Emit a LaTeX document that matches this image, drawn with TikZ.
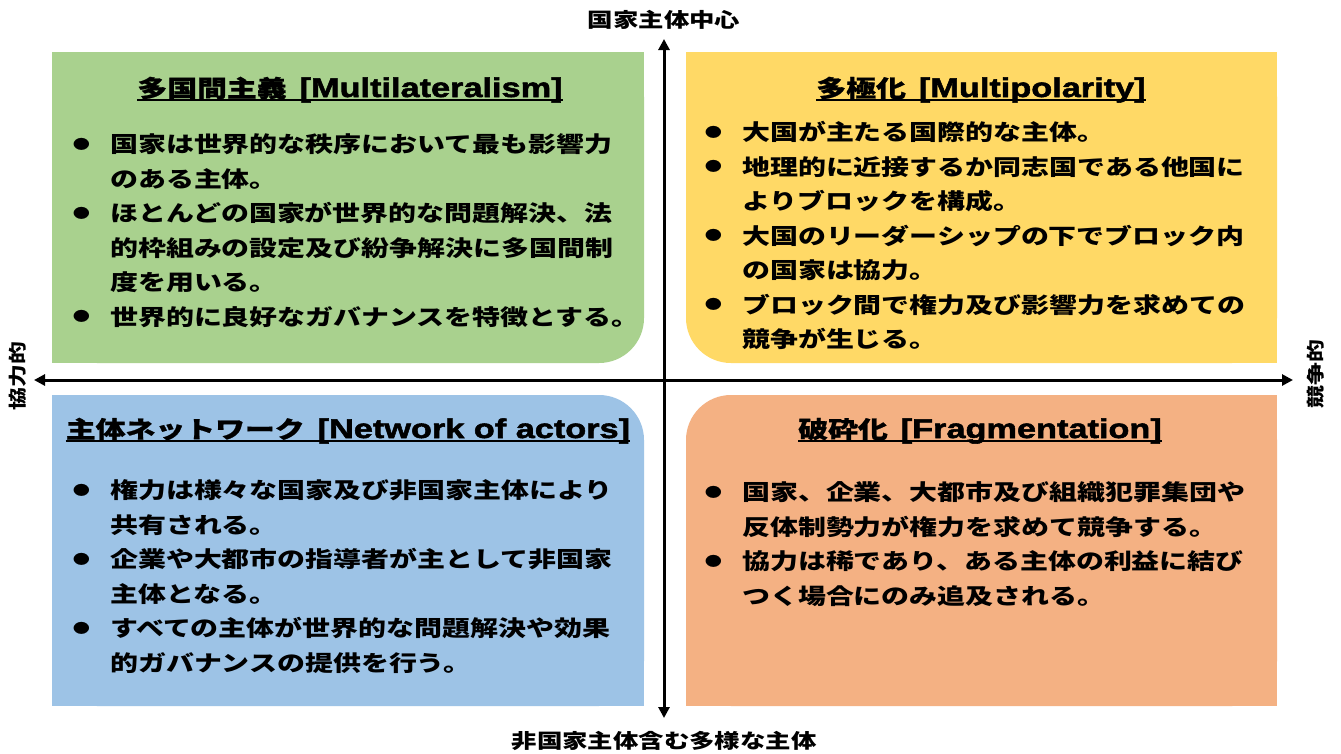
\documentclass[tikz,border=0pt]{standalone}
\usepackage{fontspec}
\usetikzlibrary{arrows.meta}
\newfontfamily\jp[FakeStretch=1.27]{Noto Sans CJK JP}
\newfontfamily\jpt[FakeStretch=1.27,FakeBold=1]{Noto Sans CJK JP}
\newfontfamily\latb[FakeStretch=1.27,FakeBold=2]{Liberation Sans}
\definecolor{cgreen}{HTML}{A9D18E}
\definecolor{cyellow}{HTML}{FFD966}
\definecolor{cblue}{HTML}{9DC3E6}
\definecolor{corange}{HTML}{F4B183}
\newcommand\bul{\makebox[37.25pt][l]{\raisebox{3.4pt}{\fontsize{13.5}{13.5}\selectfont ●}}}
\newcommand\ind{\hspace*{37.25pt}}
\newcommand\fs{\rule{0pt}{20pt}}
\newcommand\ttl[2]{{\jpt\bfseries\fontsize{23.5}{23.5}\selectfont #1}\hspace{13pt}{\latb\bfseries\fontsize{27}{27}\selectfont #2}}
\begin{document}
\begin{tikzpicture}[x=1pt,y=-1pt,
  body/.style={font=\jp\bfseries\fontsize{22}{34.5}\selectfont, align=left, inner sep=0pt, anchor=north west},
  title/.style={inner sep=0pt, anchor=base},
  uline/.style={line width=2pt},
  axis/.style={line width=3pt, {Triangle[length=11pt,width=11pt]}-{Triangle[length=11pt,width=11pt]}},
  lbl/.style={font=\jp\bfseries\fontsize{20}{20}\selectfont, inner sep=0pt},
  slbl/.style={font=\jp\bfseries\fontsize{18}{18}\selectfont, inner sep=0pt, rotate=90}]
\useasboundingbox (0,0) rectangle (1341,753);
\fill[white] (0,0) rectangle (1341,753);
% green box (rounded bottom-right)
\fill[cgreen,rounded corners=45pt] (52,52) rectangle (644,363);
\fill[cgreen] (52,52) rectangle (599,363);
\fill[cgreen] (52,52) rectangle (644,318);
% yellow box (rounded bottom-left)
\fill[cyellow,rounded corners=45pt] (686,52) rectangle (1277,363);
\fill[cyellow] (731,52) rectangle (1277,363);
\fill[cyellow] (686,52) rectangle (1277,318);
% blue box (rounded top-right)
\fill[cblue,rounded corners=45pt] (52,395) rectangle (644,706);
\fill[cblue] (52,395) rectangle (599,706);
\fill[cblue] (52,440) rectangle (644,706);
% orange box (rounded top-left)
\fill[corange,rounded corners=45pt] (686,395) rectangle (1277,706);
\fill[corange] (731,395) rectangle (1277,706);
\fill[corange] (686,440) rectangle (1277,706);
% axes
\coordinate (L) at (34,380);
\coordinate (R) at (1293,380);
\coordinate (T) at (664,39);
\coordinate (B) at (664,718);
\draw[axis] (L) -- (R);
\draw[axis] (T) -- (B);
% axis labels
\node[lbl] (top) at (664,20) {国家主体中心};
\node[lbl] (bot) at (664,741) {非国家主体含む多様な主体};
\node[slbl] (lft) at (18,376) {協力的};
\node[slbl] (rgt) at (1316,374) {競争的};
% titles
\node[title] (t1) at (350,97) {\ttl{多国間主義}{[Multilateralism]}};
\node[title] (t2) at (981,97) {\ttl{多極化}{[Multipolarity]}};
\node[title] (t3) at (348,438) {\ttl{主体ネットワーク}{[Network of actors]}};
\node[title] (t4) at (980,438) {\ttl{破砕化}{[Fragmentation]}};
\foreach \t in {t1,t2,t3,t4}
  \draw[uline] ([yshift=-3pt]\t.base west) -- ([yshift=-3pt]\t.base east);
% bodies
\node[body] (b1) at (72.75,132.4) {\fs\bul 国家は世界的な秩序において最も影響力\\
\ind のある主体。\\
\bul ほとんどの国家が世界的な問題解決、法\\
\ind 的枠組みの設定及び紛争解決に多国間制\\
\ind 度を用いる。\\
\bul 世界的に良好なガバナンスを特徴とする。};
\node[body] (b2) at (704.75,120.4) {\fs\bul 大国が主たる国際的な主体。\\
\bul 地理的に近接するか同志国である他国に\\
\ind よりブロックを構成。\\
\bul 大国のリーダーシップの下でブロック内\\
\ind の国家は協力。\\
\bul ブロック間で権力及び影響力を求めての\\
\ind 競争が生じる。};
\node[body] (b3) at (72.75,478.4) {\fs\bul 権力は様々な国家及び非国家主体により\\
\ind 共有される。\\
\bul 企業や大都市の指導者が主として非国家\\
\ind 主体となる。\\
\bul すべての主体が世界的な問題解決や効果\\
\ind 的ガバナンスの提供を行う。};
\node[body] (b4) at (704.75,480.4) {\fs\bul 国家、企業、大都市及び組織犯罪集団や\\
\ind 反体制勢力が権力を求めて競争する。\\
\bul 協力は稀であり、ある主体の利益に結び\\
\ind つく場合にのみ追及される。};
\end{tikzpicture}
\end{document}
